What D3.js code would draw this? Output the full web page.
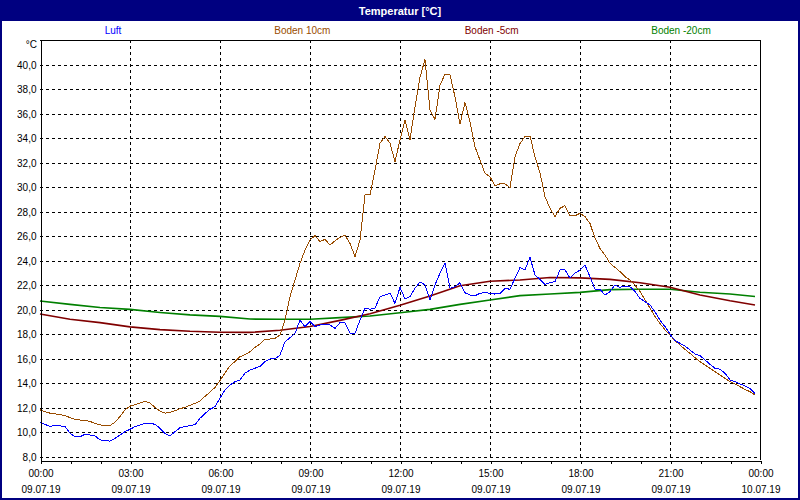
<!DOCTYPE html>
<html>
<head>
<meta charset="utf-8">
<script src="https://cdn.jsdelivr.net/npm/d3@7"></script>
<style>
  html, body { margin: 0; padding: 0; background: #fff; }
  svg { display: block; }
  text { font-family: "Liberation Sans", Arial, sans-serif; }
</style>
</head>
<body>
<svg id="chart" width="800" height="500"></svg>
<script>
// ---------------- DATA ----------------
const chartTitle = "Temperatur [°C]";
const unitLabel = "°C";
const seriesNames = ["Luft", "Boden 10cm", "Boden -5cm", "Boden -20cm"];
const seriesColors = ["#0000ff", "#994c00", "#800000", "#008000"];

// 10-minute samples, 09.07.19 00:00 ... 23:50
const sampleStart = "2019-07-09T00:00";
const sampleStepMinutes = 10;

const luft = [
  10.83, 10.67, 10.48, 10.61, 10.55, 10.48,
  9.95, 9.66, 9.66, 9.85, 9.80, 9.72,
  9.40, 9.33, 9.30, 9.52, 9.80, 10.07,
  10.26, 10.48, 10.61, 10.75, 10.75, 10.67,
  10.34, 9.93, 9.72, 10.07, 10.39, 10.48,
  10.56, 10.64, 11.16, 11.56, 11.89, 12.11,
  12.80, 13.47, 13.88, 14.15, 14.29, 14.85,
  15.10, 15.25, 15.40, 15.80, 16.00, 16.00,
  16.33, 17.41, 17.74, 18.10, 19.18, 18.64,
  19.05, 18.64, 18.78, 18.78, 18.78, 18.50,
  18.97, 18.97, 18.10, 18.10, 19.18, 20.14,
  20.06, 20.14, 21.09, 21.22, 21.36, 20.54,
  21.85, 20.90, 21.09, 21.77, 22.30, 22.04,
  20.82, 22.04, 23.00, 23.81, 21.77, 21.90,
  22.23, 21.41, 21.22, 21.17, 21.36, 21.44,
  21.36, 21.30, 21.36, 21.77, 21.69, 22.59,
  23.46, 23.27, 24.30, 22.86, 22.50, 22.10,
  22.23, 22.31, 23.27, 23.27, 22.59, 23.00,
  23.27, 23.65, 22.72, 21.69, 21.69, 21.22,
  21.50, 22.04, 21.85, 21.96, 21.90, 21.50,
  20.95, 20.68, 20.41, 19.86, 19.18, 18.64,
  18.04, 17.50, 17.28, 17.06, 16.73, 16.41,
  16.28, 15.92, 15.57, 15.24, 15.16, 14.83,
  14.29, 14.15, 13.96, 13.80, 13.60, 13.20
];

const boden10 = [
  11.85, 11.70, 11.58, 11.52, 11.48, 11.37,
  11.22, 11.08, 11.02, 10.98, 10.90, 10.75,
  10.62, 10.58, 10.56, 10.85, 11.30, 11.85,
  12.15, 12.28, 12.40, 12.55, 12.40, 12.05,
  11.75, 11.58, 11.65, 11.78, 11.95, 12.05,
  12.22, 12.38, 12.57, 12.95, 13.30, 13.68,
  14.25, 14.85, 15.45, 15.80, 16.19, 16.35,
  16.60, 16.95, 17.22, 17.63, 17.63, 17.68,
  17.96, 19.18, 21.09, 22.45, 23.81, 24.90,
  25.71, 26.07, 25.58, 25.77, 25.31, 25.64,
  25.93, 26.12, 25.44, 24.35, 25.71, 29.39,
  29.39, 31.43, 33.61, 34.15, 33.61, 32.11,
  33.90, 35.50, 33.90, 36.60, 39.00, 40.45,
  36.30, 35.56, 38.37, 39.24, 39.20, 37.41,
  35.18, 36.93, 35.37, 33.33, 32.24, 31.16,
  30.88, 30.12, 30.30, 30.30, 29.99, 32.52,
  33.60, 34.15, 34.20, 32.50, 31.20, 29.25,
  28.30, 27.62, 28.30, 28.52, 27.70, 27.70,
  27.89, 27.62, 27.07, 25.85, 25.03, 24.49,
  23.81, 23.48, 23.13, 22.72, 22.45, 22.04,
  21.50, 20.82, 20.14, 19.46, 18.91, 18.37,
  17.96, 17.50, 17.14, 16.79, 16.46, 16.11,
  15.78, 15.51, 15.24, 14.97, 14.69, 14.42,
  14.15, 13.96, 13.74, 13.52, 13.33, 13.06
];

// hourly readings for the slow soil sensors
const hourlyTimes = [
  "00:00","01:00","02:00","03:00","04:00","05:00","06:00","07:00",
  "08:00","09:00","10:00","11:00","12:00","13:00","14:00","15:00",
  "16:00","17:00","18:00","19:00","20:00","21:00","22:00","23:00","23:50"
];
const boden5 = [
  19.67, 19.24, 18.97, 18.62, 18.40, 18.26, 18.18, 18.17,
  18.35, 18.65, 19.15, 19.70, 20.38, 21.15, 21.98, 22.35,
  22.45, 22.65, 22.62, 22.50, 22.23, 21.85, 21.22, 20.75, 20.41
];
const boden20 = [
  20.73, 20.46, 20.20, 20.05, 19.80, 19.60, 19.48, 19.26,
  19.24, 19.24, 19.38, 19.51, 19.78, 20.05, 20.46, 20.82,
  21.17, 21.31, 21.44, 21.66, 21.69, 21.69, 21.45, 21.30, 21.10
];

const yTickValues = [8, 10, 12, 14, 16, 18, 20, 22, 24, 26, 28, 30, 32, 34, 36, 38, 40];
const xMajorHours = [0, 3, 6, 9, 12, 15, 18, 21, 24];

// ---------------- CHART ----------------
const W = 800, H = 500;
const plot = { left: 40, right: 760, top: 40, bottom: 460 };
const svg = d3.select("#chart");

const parse = d3.timeParse("%Y-%m-%dT%H:%M");
const t0 = parse(sampleStart);
const t1 = d3.timeDay.offset(t0, 1);
const tenMinTimes = luft.map((_, i) => d3.timeMinute.offset(t0, i * sampleStepMinutes));
const hourTimes = hourlyTimes.map(s => parse("2019-07-09T" + s));

const x = d3.scaleTime().domain([t0, t1]).range([plot.left, plot.right]);
const y = d3.scaleLinear().domain([7.755, 42.04]).range([plot.bottom, plot.top]);

const locale = d3.formatLocale({ decimal: ",", thousands: ".", grouping: [3], currency: ["", "€"] });
const fmtY = locale.format(".1f");

// background + frame
svg.append("rect").attr("x", 0).attr("y", 0).attr("width", W).attr("height", H).attr("fill", "#ffffff");
svg.append("rect").attr("x", 0).attr("y", 0).attr("width", W).attr("height", 21).attr("fill", "#000080");
svg.append("rect").attr("x", 1).attr("y", 1).attr("width", W - 2).attr("height", H - 2)
  .attr("fill", "none").attr("stroke", "#000080").attr("stroke-width", 2);

svg.append("text").attr("x", W / 2).attr("y", 14.5).attr("text-anchor", "middle")
  .attr("fill", "#ffffff").attr("font-size", 11).attr("font-weight", "bold").text(chartTitle);

// legend
const legendX = d3.scalePoint().domain(seriesNames).range([113, 681]);
svg.append("g").selectAll("text").data(seriesNames).join("text")
  .attr("x", d => legendX(d)).attr("y", 34).attr("text-anchor", "middle")
  .attr("font-size", 10).attr("fill", (d, i) => seriesColors[i]).text(d => d);

// grid
const grid = svg.append("g").attr("stroke", "#000").attr("stroke-width", 1)
  .attr("stroke-dasharray", "3,3").attr("shape-rendering", "crispEdges");
grid.selectAll("line.h").data(yTickValues).join("line").attr("class", "h")
  .attr("x1", plot.left).attr("x2", plot.right)
  .attr("y1", d => Math.round(y(d)) + 0.5).attr("y2", d => Math.round(y(d)) + 0.5);
grid.selectAll("line.v").data(xMajorHours.slice(1, -1)).join("line").attr("class", "v")
  .attr("x1", d => x(d3.timeHour.offset(t0, d)) + 0.5).attr("x2", d => x(d3.timeHour.offset(t0, d)) + 0.5)
  .attr("y1", plot.top).attr("y2", plot.bottom);

// frame lines (top, right)
svg.append("line").attr("x1", plot.left).attr("x2", plot.right + 1).attr("y1", plot.top + 0.5).attr("y2", plot.top + 0.5)
  .attr("stroke", "#000").attr("shape-rendering", "crispEdges");
svg.append("line").attr("x1", plot.right + 0.5).attr("x2", plot.right + 0.5).attr("y1", plot.top).attr("y2", plot.bottom)
  .attr("stroke", "#000").attr("shape-rendering", "crispEdges");

// series lines
const line10 = d3.line().x((d, i) => x(tenMinTimes[i])).y(d => y(d));
const lineH = d3.line().x((d, i) => x(hourTimes[i])).y(d => y(d));
const lines = svg.append("g").attr("fill", "none").attr("stroke-linejoin", "round");
lines.append("path").datum(boden20).attr("d", lineH).attr("stroke", seriesColors[3]).attr("stroke-width", 1.6);
lines.append("path").datum(boden5).attr("d", lineH).attr("stroke", seriesColors[2]).attr("stroke-width", 1.6);
lines.append("path").datum(boden10).attr("d", line10).attr("stroke", seriesColors[1]).attr("stroke-width", 1)
  .attr("shape-rendering", "crispEdges");
lines.append("path").datum(luft).attr("d", line10).attr("stroke", seriesColors[0]).attr("stroke-width", 1)
  .attr("shape-rendering", "crispEdges");

// y axis
const yAxis = d3.axisLeft(y).tickValues(yTickValues).tickSize(0).tickPadding(4).tickFormat(fmtY);
const gy = svg.append("g").attr("transform", `translate(${plot.left + 0.5},0)`).call(yAxis);
gy.select(".domain").attr("stroke", "#000").attr("shape-rendering", "crispEdges");
gy.selectAll("text").attr("font-size", 10).attr("fill", "#000")
  .attr("font-family", "'Liberation Sans', Arial, sans-serif");
svg.append("text").attr("x", 37).attr("y", 48).attr("text-anchor", "end")
  .attr("font-size", 10).attr("fill", "#000").text(unitLabel);

// x axis: hourly minor ticks
const xMinor = d3.axisBottom(x).ticks(d3.timeHour.every(1)).tickSize(3).tickSizeOuter(0).tickFormat("");
const gxm = svg.append("g").attr("transform", `translate(0.5,${plot.bottom + 0.5})`).call(xMinor);
gxm.select(".domain").attr("stroke", "#000").attr("shape-rendering", "crispEdges");
gxm.selectAll(".tick line").attr("stroke", "#000").attr("shape-rendering", "crispEdges");

// x axis: labelled major ticks
const majorTimes = xMajorHours.map(h => d3.timeHour.offset(t0, h));
const xMajor = d3.axisBottom(x).tickValues(majorTimes).tickSize(3).tickSizeOuter(0)
  .tickPadding(6).tickFormat(d3.timeFormat("%H:%M"));
const gx = svg.append("g").attr("transform", `translate(0.5,${plot.bottom + 0.5})`).call(xMajor);
gx.select(".domain").remove();
gx.selectAll(".tick line").attr("stroke", "#000").attr("shape-rendering", "crispEdges");
gx.selectAll(".tick text").attr("font-size", 10).attr("fill", "#000")
  .attr("font-family", "'Liberation Sans', Arial, sans-serif");
gx.selectAll(".tick").append("text")
  .attr("y", 25).attr("dy", "0.71em").attr("text-anchor", "middle")
  .attr("font-size", 10).attr("fill", "#000")
  .attr("font-family", "'Liberation Sans', Arial, sans-serif")
  .text(d => d3.timeFormat("%d.%m.%y")(d));
</script>
</body>
</html>
